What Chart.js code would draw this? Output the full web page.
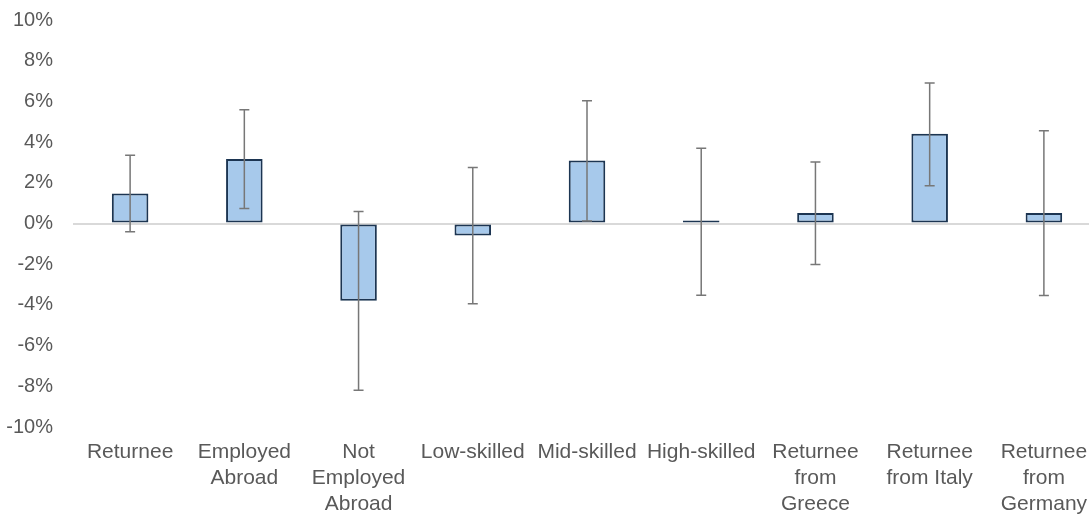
<!DOCTYPE html>
<html>
<head>
<meta charset="utf-8">
<script src="https://cdn.jsdelivr.net/npm/chart.js@4"></script>
<style>
  html, body { margin: 0; padding: 0; background: #fff; overflow: hidden; }
  #wrap { width: 1104px; height: 518px; }
</style>
</head>
<body>
<div id="wrap"><canvas id="chart"></canvas></div>
<script>
// categories, values in %, error bar ends in %
const categories = [
  'Returnee', ['Employed', 'Abroad'], ['Not', 'Employed', 'Abroad'],
  'Low-skilled', 'Mid-skilled', 'High-skilled',
  ['Returnee', 'from', 'Greece'], ['Returnee', 'from Italy'], ['Returnee', 'from', 'Germany']
];
const values  = [1.47, 3.17, -3.80, -0.59, 3.10, 0.08, 0.51, 4.41, 0.52];
const errHigh = [3.35, 5.59, 0.59, 2.75, 6.03, 3.70, 3.02, 6.91, 4.56];
const errLow  = [-0.41, 0.74, -8.20, -3.94, 0.12, -3.53, -2.02, 1.86, -3.54];
const yTicks  = [-10, -8, -6, -4, -2, 0, 2, 4, 6, 8, 10];

// draws the whiskers through the y scale
const errorBars = {
  id: 'errorBars',
  afterDatasetsDraw(chart) {
    const ctx = chart.ctx;
    const y = chart.scales.y;
    const meta = chart.getDatasetMeta(0);
    ctx.save();
    ctx.strokeStyle = '#777777';
    ctx.lineWidth = 1.5;
    meta.data.forEach((bar, i) => {
      const top = y.getPixelForValue(errHigh[i]);
      const bot = y.getPixelForValue(errLow[i]);
      ctx.beginPath();
      ctx.moveTo(bar.x, top); ctx.lineTo(bar.x, bot);
      ctx.moveTo(bar.x - 5, top); ctx.lineTo(bar.x + 5, top);
      ctx.moveTo(bar.x - 5, bot); ctx.lineTo(bar.x + 5, bot);
      ctx.stroke();
    });
    ctx.restore();
  }
};

const font = { family: 'Liberation Sans, Arial, sans-serif', size: 21, lineHeight: 1.24 };

new Chart(document.getElementById('chart'), {
  type: 'bar',
  data: {
    labels: categories,
    datasets: [{
      data: values,
      backgroundColor: '#a7c9eb',
      borderColor: '#1c3552',
      borderWidth: 2,
      borderSkipped: false,
      minBarLength: 3,
      barPercentage: 0.32,
      categoryPercentage: 1
    }]
  },
  options: {
    responsive: true,
    maintainAspectRatio: false,
    animation: false,
    layout: { padding: { left: 0, right: 3, top: 20, bottom: 0 } },
    plugins: { legend: { display: false }, tooltip: { enabled: false } },
    scales: {
      x: {
        grid: { display: false, drawTicks: false },
        border: { display: false },
        afterFit: (axis) => { axis.height = 91; },
        ticks: {
          color: '#595959',
          font: font,
          maxRotation: 0,
          autoSkip: false,
          padding: 12
        }
      },
      y: {
        min: -10,
        max: 10,
        z: 1,
        afterBuildTicks: (axis) => { axis.ticks = yTicks.map(v => ({ value: v })); },
        afterFit: (axis) => { axis.width = 73; axis.paddingTop = 0; axis.paddingBottom = 0; },
        grid: {
          color: (c) => c.tick && c.tick.value === 0 ? '#d9d9d9' : 'rgba(0,0,0,0)',
          lineWidth: 2,
          drawTicks: false
        },
        border: { display: false },
        ticks: {
          color: '#595959',
          font: { family: 'Liberation Sans, Arial, sans-serif', size: 20 },
          padding: 20,
          callback: (v) => v + '%'
        }
      }
    }
  },
  plugins: [errorBars]
});
</script>
</body>
</html>
